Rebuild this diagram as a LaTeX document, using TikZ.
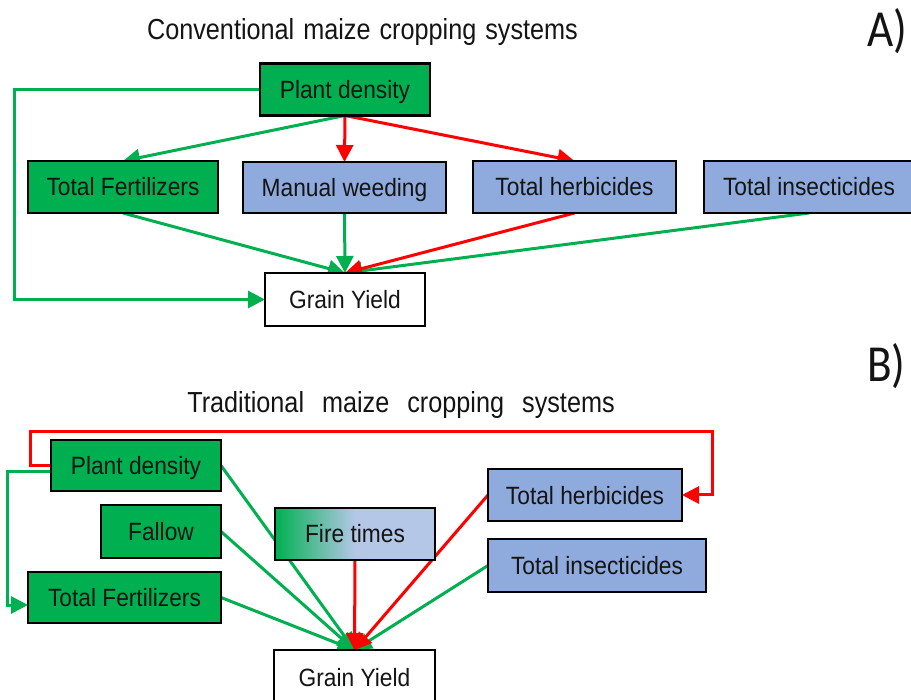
\documentclass[tikz,border=0pt]{standalone}
\usepackage{fontspec}
\setmainfont{Liberation Sans}
\newfontfamily\boxfont[FakeStretch=0.91]{Liberation Sans}
\newfontfamily\ttlfont[FakeStretch=0.87]{Liberation Sans}
\newfontfamily\labfont[FakeStretch=0.87]{Carlito}
\usetikzlibrary{arrows.meta,calc,backgrounds}
\definecolor{gfill}{HTML}{00B050}
\definecolor{bfill}{HTML}{8FAADC}
\definecolor{blight}{HTML}{B4C7E7}
\definecolor{gline}{HTML}{00B050}
\definecolor{rline}{HTML}{FF0000}
\definecolor{txt}{HTML}{141414}
\pgfdeclarehorizontalshading{fireshade}{100bp}{color(0bp)=(gfill); color(25bp)=(gfill); color(50bp)=(blight); color(100bp)=(blight)}
\tikzset{
  box/.style={draw=black, line width=2.5pt, rectangle, inner sep=0pt, outer sep=0pt,
    text height=18pt, text depth=0pt, font=\boxfont\fontsize{25}{30}\selectfont, text=txt},
  gbox/.style={box, fill=gfill},
  bbox/.style={box, fill=bfill},
  wbox/.style={box, fill=white},
  firebox/.style={box, shade, shading=fireshade},
  gar/.style={draw=gline, line width=3pt, -{Triangle[length=17pt,width=17pt]}},
  rar/.style={draw=rline, line width=3pt, -{Triangle[length=17pt,width=17pt]}},
  ttl/.style={anchor=base, inner sep=0pt, font=\ttlfont\fontsize{29}{34}\selectfont, text=txt},
  lab/.style={anchor=base west, inner sep=0pt, font=\labfont\fontsize{52}{60}\selectfont, text=txt}
}
\begin{document}
\begin{tikzpicture}[x=1pt,y=-1pt]
\useasboundingbox (0,0) rectangle (911,700);

% ---- Panel A ----
\node[ttl] (tA) at (362.5,40) {Conventional\hspace{9pt}maize\hspace{9pt}cropping\hspace{9pt}systems};
\node[lab] (lA) at (867,47) {A)};

\node[gbox, minimum width=170pt, minimum height=52pt] (PDa) at (345,89.5) {Plant density};
\node[gbox, minimum width=190pt, minimum height=52pt] (TFa) at (123,187) {Total Fertilizers};
\node[bbox, minimum width=203pt, minimum height=51pt] (MWa) at (344.5,187.5) {Manual weeding};
\node[bbox, minimum width=203pt, minimum height=52pt] (THa) at (574.5,187) {Total herbicides};
\node[bbox, minimum width=210pt, minimum height=52pt] (TIa) at (809,187) {Total insecticides};
\node[wbox, minimum width=160pt, minimum height=53pt] (GYa) at (345,299.5) {Grain Yield};

% ---- Panel B ----
\node[ttl] (tB) at (401,413) {Traditional\hspace{18pt}maize\hspace{18pt}cropping\hspace{18pt}systems};
\node[lab] (lB) at (867,382) {B)};

\node[gbox, minimum width=170pt, minimum height=51pt] (PDb) at (136,465.5) {Plant density};
\node[gbox, minimum width=120pt, minimum height=53pt] (FAb) at (161,531.5) {Fallow};
\node[gbox, minimum width=193pt, minimum height=51pt] (TFb) at (124.5,597.5) {Total Fertilizers};
\node[firebox, minimum width=160pt, minimum height=52pt] (FTb) at (355,534) {Fire times};
\node[wbox, minimum width=161pt, minimum height=54pt] (GYb) at (354.5,677) {Grain Yield};
\node[bbox, minimum width=194pt, minimum height=52pt] (THb) at (585,495) {Total herbicides};
\node[bbox, minimum width=218pt, minimum height=53pt] (TIb) at (597,565.5) {Total insecticides};

\coordinate (rA) at (14,89.5);
\coordinate (r1) at (30,432);
\coordinate (r2) at (712,432);
\coordinate (g1) at (7,472);

\begin{pgfonlayer}{background}
% Panel A connectors
\draw[gar] (PDa.west) -- (rA) |- (GYa.west);
\draw[gar] (PDa.south) -- (TFa.north);
\draw[gar] (TFa.south) -- (GYa.north);
\draw[gar] (MWa.south) -- (GYa.north);
\draw[gar] (TIa.south) -- (GYa.north);
\draw[rar] (PDa.south) -- (MWa.north);
\draw[rar] (PDa.south) -- (THa.north);
\draw[rar] (THa.south) -- (GYa.north);

% Panel B connectors
\draw[gar] ($(PDb.west)+(0,6.5)$) -| (g1) |- ($(TFb.west)+(0,7.5)$);
\draw[gar] (PDb.east) -- (GYb.north);
\draw[gar] (FAb.east) -- (GYb.north);
\draw[gar] (TFb.east) -- (GYb.north);
\draw[gar] (TIb.west) -- (GYb.north);
\draw[rar] (PDb.west) -| (r1) -- (r2) |- (THb.east);
\draw[rar] (FTb.south) -- (GYb.north);
\draw[rar] (THb.west) -- (GYb.north);
\end{pgfonlayer}
\end{tikzpicture}
\end{document}
